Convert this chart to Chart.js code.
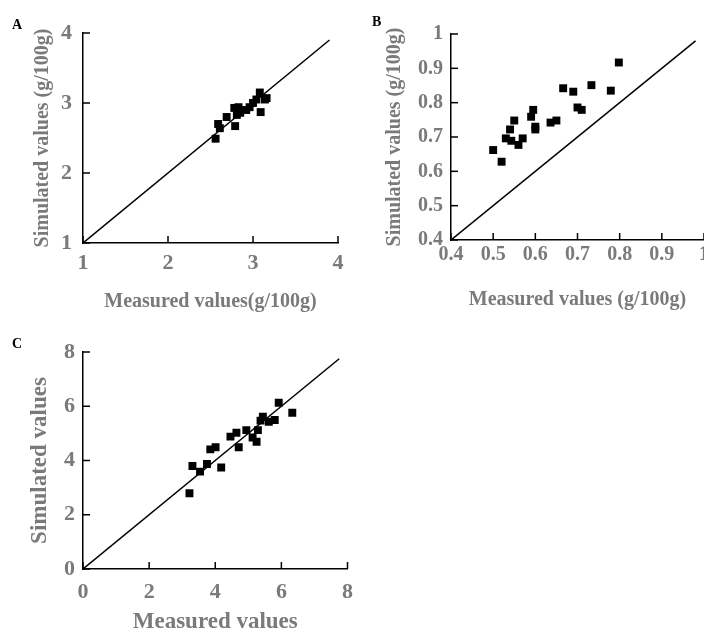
<!DOCTYPE html>
<html>
<head>
<meta charset="utf-8">
<script src="https://cdn.jsdelivr.net/npm/chart.js@4/dist/chart.umd.min.js"></script>
<style>
  html, body { margin: 0; padding: 0; background: #fff; overflow: hidden; }
  #page { position: relative; width: 704px; height: 642px; overflow: hidden; }
  .panel { position: absolute; overflow: hidden; }
  .tag { position: absolute; font: bold 14px "Liberation Serif", serif; color: #000; }
</style>
</head>
<body>
<div id="page">
  <div class="panel" style="left:0;top:0;width:360px;height:320px"><canvas id="chartA" width="360" height="320"></canvas></div>
  <div class="panel" style="left:360px;top:0;width:344px;height:320px"><canvas id="chartB" width="380" height="320"></canvas></div>
  <div class="panel" style="left:0;top:330px;width:363px;height:312px"><canvas id="chartC" width="363" height="312"></canvas></div>
  <div class="tag" style="left:12px;top:17px">A</div>
  <div class="tag" style="left:372px;top:14px">B</div>
  <div class="tag" style="left:12px;top:336px">C</div>
</div>
<script>
// Panel A values (g/100g)
const aMeasured  = [2.56, 2.59, 2.61, 2.69, 2.79, 2.78, 2.83, 2.81, 2.85, 2.84, 2.92, 2.96, 3.00, 3.04, 3.08, 3.09, 3.14, 3.16];
const aSimulated = [2.49, 2.70, 2.64, 2.80, 2.67, 2.93, 2.94, 2.83, 2.86, 2.90, 2.90, 2.94, 3.00, 3.05, 3.15, 2.87, 3.05, 3.07];
const aTicks = [1, 2, 3, 4];
const aDiagonal = [1, 3.9];

// Panel B values (g/100g)
const bMeasured  = [0.50, 0.52, 0.53, 0.54, 0.543, 0.55, 0.56, 0.57, 0.59, 0.595, 0.60, 0.60, 0.636, 0.65, 0.666, 0.69, 0.70, 0.71, 0.733, 0.779, 0.798];
const bSimulated = [0.662, 0.628, 0.696, 0.722, 0.689, 0.748, 0.677, 0.696, 0.759, 0.779, 0.722, 0.730, 0.742, 0.748, 0.842, 0.832, 0.786, 0.779, 0.851, 0.835, 0.917];
const bTicks = [0.4, 0.5, 0.6, 0.7, 0.8, 0.9, 1];
const bDiagonal = [0.4, 0.98];

// Panel C values
const cMeasured  = [3.22, 3.31, 3.54, 3.75, 3.85, 4.01, 4.18, 4.46, 4.64, 4.71, 4.94, 5.13, 5.25, 5.29, 5.37, 5.44, 5.62, 5.80, 5.92, 6.33];
const cSimulated = [2.79, 3.80, 3.59, 3.87, 4.41, 4.49, 3.74, 4.88, 5.02, 4.49, 5.12, 4.85, 4.69, 5.12, 5.47, 5.61, 5.43, 5.49, 6.13, 5.76];
const cTicks = [0, 2, 4, 6, 8];
const cDiagonal = [0, 7.75];

const labelGray = '#7a7a7a';
const serif = '"Liberation Serif", "Times New Roman", serif';

function toPoints(xs, ys) {
    return xs.map((x, i) => ({ x: x, y: ys[i] }));
}

// tick marks pointing into the plot, drawn at the axis ticks
const innerTicks = {
    id: 'innerTicks',
    afterDatasetsDraw(chart) {
        const { ctx, chartArea, scales: { x, y } } = chart;
        ctx.save();
        ctx.strokeStyle = '#000';
        ctx.lineWidth = 1.5;
        x.ticks.forEach(t => {
            const px = x.getPixelForValue(t.value);
            ctx.beginPath();
            ctx.moveTo(px, chartArea.bottom);
            ctx.lineTo(px, chartArea.bottom - 7);
            ctx.stroke();
        });
        y.ticks.forEach(t => {
            const py = y.getPixelForValue(t.value);
            ctx.beginPath();
            ctx.moveTo(chartArea.left, py);
            ctx.lineTo(chartArea.left + 7, py);
            ctx.stroke();
        });
        ctx.restore();
    }
};

/**
 * Build one measured-vs-simulated scatter config
 */
function buildConfig(p) {
    const axis = (ticks, title, isX) => ({
        type: 'linear',
        position: isX ? 'bottom' : 'left',
        min: ticks[0],
        max: ticks[ticks.length - 1],
        afterBuildTicks: s => { s.ticks = ticks.map(v => ({ value: v })); },
        afterFit: s => { if (isX) s.height = p.xHeight; else s.width = p.yWidth; },
        border: { color: '#000', width: 1.5 },
        grid: { drawOnChartArea: false, drawTicks: false },
        ticks: {
            color: labelGray,
            padding: isX ? p.xTickPad : p.yTickPad,
            font: { family: serif, weight: 'bold', size: p.tickSize },
            callback: v => String(v)
        },
        title: {
            display: true,
            text: title,
            color: labelGray,
            font: { family: serif, weight: 'bold', size: p.titleSize },
            padding: isX ? { top: 0, bottom: p.xTitlePad } : { top: p.yTitlePad, bottom: 0 }
        }
    });

    return {
        type: 'scatter',
        data: {
            datasets: [
                {
                    data: toPoints(p.measured, p.simulated),
                    pointStyle: 'rect',
                    pointRadius: 5.6,
                    backgroundColor: '#000',
                    borderColor: '#000',
                    borderWidth: 0
                },
                {
                    type: 'line',
                    data: toPoints(p.diagonal, p.diagonal),
                    borderColor: '#000',
                    borderWidth: 1.5,
                    pointRadius: 0,
                    fill: false
                }
            ]
        },
        options: {
            responsive: false,
            animation: false,
            layout: { padding: p.padding },
            plugins: { legend: { display: false }, tooltip: { enabled: false } },
            scales: {
                x: axis(p.ticks, p.xTitle, true),
                y: axis(p.ticks, p.yTitle, false)
            }
        },
        plugins: [innerTicks]
    };
}

new Chart(document.getElementById('chartA'), buildConfig({
    measured: aMeasured, simulated: aSimulated, ticks: aTicks, diagonal: aDiagonal,
    xTitle: 'Measured values(g/100g)', yTitle: 'Simulated values (g/100g)',
    titleSize: 20, tickSize: 22,
    padding: { top: 33, right: 22, left: 0, bottom: 0 },
    xHeight: 77, yWidth: 83,
    xTickPad: 7, yTickPad: 11, xTitlePad: 6, yTitlePad: 31
}));

new Chart(document.getElementById('chartB'), buildConfig({
    measured: bMeasured, simulated: bSimulated, ticks: bTicks, diagonal: bDiagonal,
    xTitle: 'Measured values (g/100g)', yTitle: 'Simulated values (g/100g)',
    titleSize: 20, tickSize: 20,
    padding: { top: 34, right: 36, left: 0, bottom: 0 },
    xHeight: 80, yWidth: 91,
    xTickPad: 3, yTickPad: 8, xTitlePad: 8, yTitlePad: 23
}));

new Chart(document.getElementById('chartC'), buildConfig({
    measured: cMeasured, simulated: cSimulated, ticks: cTicks, diagonal: cDiagonal,
    xTitle: 'Measured values', yTitle: 'Simulated values',
    titleSize: 23, tickSize: 22,
    padding: { top: 22, right: 13, left: 0, bottom: 0 },
    xHeight: 73, yWidth: 83,
    xTickPad: 10, yTickPad: 8, xTitlePad: 6, yTitlePad: 26
}));
</script>
</body>
</html>
